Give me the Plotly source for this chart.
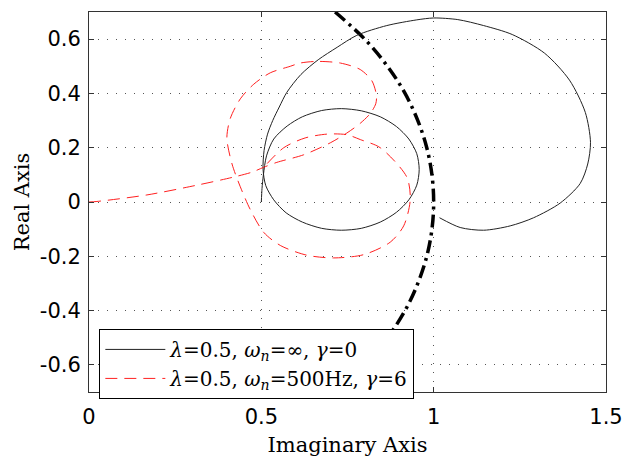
import plotly.graph_objects as go

# Solid black curve (lambda=0.5, wn=inf, gamma=0)
solid_x = [0.500, 0.502, 0.506, 0.515, 0.536, 0.575, 0.619, 0.675, 0.732, 0.790, 0.845, 0.892,
           0.928, 0.951, 0.958, 0.951, 0.928, 0.892, 0.845, 0.790, 0.732, 0.675, 0.619,
           0.572, 0.536, 0.513, 0.505, 0.508, 0.518, 0.533, 0.552, 0.574, 0.615, 0.665,
           0.720, 0.777, 0.864, 0.951, 1.000, 1.070, 1.145, 1.228, 1.322, 1.394, 1.440,
           1.455, 1.447, 1.425, 1.367, 1.290, 1.222, 1.145, 1.077, 1.017]
solid_y = [0.000, 0.050, 0.100, 0.170, 0.232, 0.280, 0.314, 0.337, 0.344, 0.336, 0.314, 0.278,
           0.232, 0.178, 0.120, 0.062, 0.008, -0.038, -0.074, -0.097, -0.104, -0.097, -0.074,
           -0.040, 0.008, 0.060, 0.120, 0.190, 0.250, 0.300, 0.350, 0.404, 0.470, 0.524,
           0.570, 0.614, 0.650, 0.671, 0.678, 0.672, 0.650, 0.617, 0.548, 0.449, 0.330,
           0.220, 0.140, 0.068, -0.004, -0.058, -0.088, -0.104, -0.094, -0.058]

# Red dashed curve (lambda=0.5, wn=500Hz, gamma=6)
dash_x = [0.000, 0.023, 0.168, 0.313, 0.420, 0.473, 0.507, 0.545, 0.623, 0.700, 0.748, 0.787,
          0.816, 0.832, 0.834, 0.821, 0.787, 0.729, 0.661, 0.613, 0.584, 0.526, 0.478,
          0.439, 0.410, 0.400, 0.415, 0.439, 0.468, 0.507, 0.555, 0.632, 0.710, 0.797,
          0.874, 0.913, 0.932, 0.922, 0.845, 0.787, 0.748, 0.690, 0.627, 0.565, 0.507]
dash_y = [0.000, 0.002, 0.026, 0.062, 0.092, 0.110, 0.128, 0.146, 0.174, 0.218, 0.254, 0.290,
          0.326, 0.362, 0.392, 0.446, 0.488, 0.512, 0.518, 0.512, 0.500, 0.476, 0.434,
          0.380, 0.308, 0.236, 0.140, 0.056, -0.028, -0.112, -0.160, -0.196, -0.206, -0.194,
          -0.148, -0.088, 0.008, 0.092, 0.200, 0.230, 0.248, 0.250, 0.236, 0.200, 0.128]

# Thick dash-dot reference arc
arc_x = [0.714, 0.800, 0.866, 0.917, 0.954, 0.980, 0.995, 1.000, 0.995, 0.980, 0.954, 0.917, 0.866, 0.800, 0.714]
arc_y = [0.70, 0.60, 0.50, 0.40, 0.30, 0.20, 0.10, 0.00, -0.10, -0.20, -0.30, -0.40, -0.50, -0.60, -0.70]

x_ticks = [0, 0.5, 1, 1.5]
x_tick_text = ["0", "0.5", "1", "1.5"]
y_ticks = [-0.6, -0.4, -0.2, 0, 0.2, 0.4, 0.6]
y_tick_text = ["-0.6", "-0.4", "-0.2", "0", "0.2", "0.4", "0.6"]

solid_name = "<i>λ</i>=0.5, <i>ω</i><sub><i>n</i></sub>=∞, <i>γ</i>=0"
dash_name = "<i>λ</i>=0.5, <i>ω</i><sub><i>n</i></sub>=500Hz, <i>γ</i>=6"

fig = go.Figure()
fig.add_trace(go.Scatter(x=arc_x, y=arc_y, mode="lines", showlegend=False,
                         line=dict(color="black", width=3.5, dash="13px,5px,3px,5px", shape="spline")))
fig.add_trace(go.Scatter(x=solid_x, y=solid_y, mode="lines", name=solid_name,
                         line=dict(color="#222222", width=1, shape="spline", smoothing=0.8)))
fig.add_trace(go.Scatter(x=dash_x, y=dash_y, mode="lines", name=dash_name,
                         line=dict(color="#ff2020", width=1, dash="12px,7px", shape="spline", smoothing=0.8)))

axis_common = dict(showline=True, linecolor="#333333", linewidth=1, mirror="ticks",
                   ticks="inside", ticklen=5, tickcolor="#333333",
                   showgrid=True, gridcolor="#555555", griddash="1px,8px", gridwidth=1,
                   zeroline=False, tickfont=dict(family="DejaVu Sans", size=21, color="black"))

fig.update_xaxes(range=[0, 1.5], tickvals=x_ticks, ticktext=x_tick_text,
                 title=dict(text="Imaginary Axis", font=dict(family="DejaVu Serif", size=21, color="black"), standoff=9),
                 ticklabelstandoff=6, **axis_common)
fig.update_yaxes(range=[-0.7, 0.7], tickvals=y_ticks, ticktext=y_tick_text,
                 title=dict(text="Real Axis", font=dict(family="DejaVu Serif", size=21, color="black"), standoff=4),
                 ticklabelstandoff=3, **axis_common)

fig.update_layout(
    width=635, height=464,
    margin=dict(l=89, r=29, t=11, b=64),
    paper_bgcolor="white", plot_bgcolor="white",
    legend=dict(x=0.02, y=0.166, xanchor="left", yanchor="top",
                bgcolor="white", bordercolor="black", borderwidth=1,
                font=dict(family="DejaVu Serif", size=20, color="black"),
                tracegroupgap=0, itemwidth=60),
)

fig.write_html("out.html")
